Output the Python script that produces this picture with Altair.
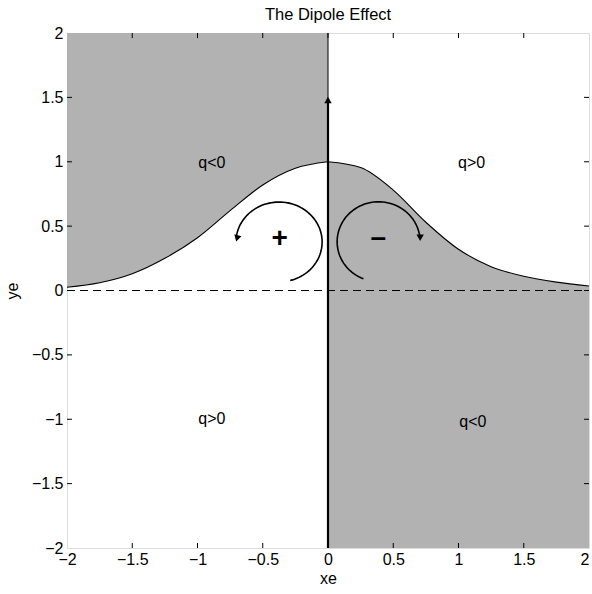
import altair as alt
import pandas as pd
import numpy as np

# ---- data ----
curve_x_left = [-2.0, -1.75, -1.5, -1.25, -1.0, -0.75, -0.5, -0.25, 0.0]
curve_y_left = [0.025, 0.06, 0.13, 0.25, 0.41, 0.62, 0.82, 0.95, 1.0]
curve_x_right = [0.0, 0.25, 0.5, 0.75, 1.0, 1.25, 1.5, 1.75, 2.0]
curve_y_right = [1.0, 0.955, 0.78, 0.53, 0.32, 0.185, 0.11, 0.065, 0.035]
tick_values = [-2, -1.5, -1, -0.5, 0, 0.5, 1, 1.5, 2]
inner_ticks = [-1.5, -1, -0.5, 0, 0.5, 1, 1.5]

region_labels = ["q<0", "q>0", "q>0", "q<0"]
region_x = [-0.89, 1.10, -0.89, 1.11]
region_y = [0.99, 0.99, -1.0, -1.02]

sign_labels = ["+", "–"]
sign_x = [-0.37, 0.385]
sign_y = [0.40, 0.405]

# circulation arcs: centre, radii, start/end angle (deg)
arc_cx = [-0.375, 0.388]
arc_cy = [0.377, 0.379]
arc_rx = [0.33, 0.318]
arc_ry = [0.31, 0.31]
arc_a0 = [-75, -111.5]
arc_a1 = [172, -352]

head_x = [-0.697, 0.706, 0.0]
head_y = [0.405, 0.41, 1.48]
head_shape = ["triangle-down", "triangle-down", "triangle-up"]
head_angle = [15, 0, 0]

axis_lo, axis_hi = -2, 2
tick_len_x = 0.038
tick_len_y = 0.039

FONT = "Liberation Sans"
SHADE = "#b2b2b2"
FS = 16

xs = alt.Scale(domain=[axis_lo, axis_hi], nice=False, zero=False)
ys = alt.Scale(domain=[axis_lo, axis_hi], nice=False, zero=False)

left_df = pd.DataFrame({"x": curve_x_left, "y": curve_y_left, "top": axis_hi})
right_df = pd.DataFrame({"x": curve_x_right, "y": curve_y_right, "bot": axis_lo})

xaxis = alt.Axis(values=tick_values, format="~g", tickSize=0, domain=False, grid=False,
                 labelFontSize=FS, labelFont=FONT, labelPadding=3, labelFlush=False,
                 labelAlign=alt.ExprRef(expr="datum.value == 2 ? 'right' : 'center'"),
                 labelColor="black", title="xe", titleFont=FONT, titleFontSize=FS,
                 titleFontWeight="normal", titlePadding=3, titleColor="black")
yaxis = alt.Axis(values=tick_values, format="~g", tickSize=0, domain=False, grid=False,
                 labelFontSize=FS, labelFont=FONT, labelPadding=4, labelFlush=False,
                 labelColor="black", title="ye", titleFont=FONT, titleFontSize=FS,
                 titleFontWeight="normal", titlePadding=11, titleColor="black")

left_area = alt.Chart(left_df).mark_area(color=SHADE, interpolate="monotone").encode(
    x=alt.X("x:Q", scale=xs, axis=xaxis),
    y=alt.Y("y:Q", scale=ys, axis=yaxis),
    y2="top:Q",
)
right_area = alt.Chart(right_df).mark_area(color=SHADE, interpolate="monotone").encode(
    x=alt.X("x:Q", scale=xs), y=alt.Y("y:Q", scale=ys), y2="bot:Q"
)
left_line = alt.Chart(left_df).mark_line(color="black", strokeWidth=1.1, interpolate="monotone").encode(
    x=alt.X("x:Q", scale=xs), y=alt.Y("y:Q", scale=ys)
)
right_line = alt.Chart(right_df).mark_line(color="black", strokeWidth=1.1, interpolate="monotone").encode(
    x=alt.X("x:Q", scale=xs), y=alt.Y("y:Q", scale=ys)
)

zero_df = pd.DataFrame({"x": [axis_lo], "x2": [axis_hi], "y": [0]})
zero_line = alt.Chart(zero_df).mark_rule(color="black", strokeWidth=1, strokeDash=[8, 5]).encode(
    x=alt.X("x:Q", scale=xs), x2="x2:Q", y=alt.Y("y:Q", scale=ys)
)

vert_df = pd.DataFrame({"x": [0, 0], "y": [axis_lo, axis_lo], "y2": [axis_hi, 1.46], "w": [1, 2.2]})
vert_lines = alt.Chart(vert_df).mark_rule(color="black").encode(
    x=alt.X("x:Q", scale=xs), y=alt.Y("y:Q", scale=ys), y2="y2:Q",
    strokeWidth=alt.StrokeWidth("w:Q", scale=None, legend=None)
)

rows = []
for k in range(2):
    angs = np.linspace(arc_a0[k], arc_a1[k], 80)
    for i, a in enumerate(angs):
        t = np.deg2rad(a)
        rows.append({"arc": k, "i": i,
                     "x": arc_cx[k] + arc_rx[k] * np.cos(t),
                     "y": arc_cy[k] + arc_ry[k] * np.sin(t)})
arc_df = pd.DataFrame(rows)
arcs = alt.Chart(arc_df).mark_line(color="black", strokeWidth=1.6).encode(
    x=alt.X("x:Q", scale=xs), y=alt.Y("y:Q", scale=ys),
    detail="arc:N", order="i:Q"
)

head_df = pd.DataFrame({"x": head_x, "y": head_y, "shape": head_shape, "angle": head_angle})
heads = alt.Chart(head_df).mark_point(filled=True, color="black", size=55, opacity=1).encode(
    x=alt.X("x:Q", scale=xs), y=alt.Y("y:Q", scale=ys),
    shape=alt.Shape("shape:N", scale=None, legend=None),
    angle=alt.Angle("angle:Q", scale=None)
)

reg_df = pd.DataFrame({"x": region_x, "y": region_y, "t": region_labels})
reg_text = alt.Chart(reg_df).mark_text(font=FONT, fontSize=FS, color="black").encode(
    x=alt.X("x:Q", scale=xs), y=alt.Y("y:Q", scale=ys), text="t:N"
)

sign_df = pd.DataFrame({"x": sign_x, "y": sign_y, "t": sign_labels})
sign_text = alt.Chart(sign_df).mark_text(font=FONT, fontSize=28, fontWeight="bold", color="black").encode(
    x=alt.X("x:Q", scale=xs), y=alt.Y("y:Q", scale=ys), text="t:N"
)

tick_rows = []
for v in inner_ticks:
    tick_rows.append({"x": v, "x2": v, "y": axis_lo, "y2": axis_lo + tick_len_y})
    tick_rows.append({"x": v, "x2": v, "y": axis_hi, "y2": axis_hi - tick_len_y})
    tick_rows.append({"x": axis_lo, "x2": axis_lo + tick_len_x, "y": v, "y2": v})
    tick_rows.append({"x": axis_hi, "x2": axis_hi - tick_len_x, "y": v, "y2": v})
tick_df = pd.DataFrame(tick_rows)
ticks = alt.Chart(tick_df).mark_rule(color="black", strokeWidth=1).encode(
    x=alt.X("x:Q", scale=xs), x2="x2:Q", y=alt.Y("y:Q", scale=ys), y2="y2:Q"
)

chart = alt.layer(
    left_area, right_area, left_line, right_line, zero_line, vert_lines,
    arcs, heads, reg_text, sign_text, ticks
).properties(
    width=522, height=515,
    title=alt.TitleParams("The Dipole Effect", font=FONT, fontSize=16.5, fontWeight="normal",
                          color="black", offset=2, anchor="middle"),
    autosize=alt.AutoSizeParams(type="none"),
    padding={"left": 67, "top": 33, "right": 3, "bottom": 46},
).configure_view(stroke="black", strokeWidth=1).configure(background="white")

chart.save("out.html", embed_options={"renderer": "svg", "actions": False})
